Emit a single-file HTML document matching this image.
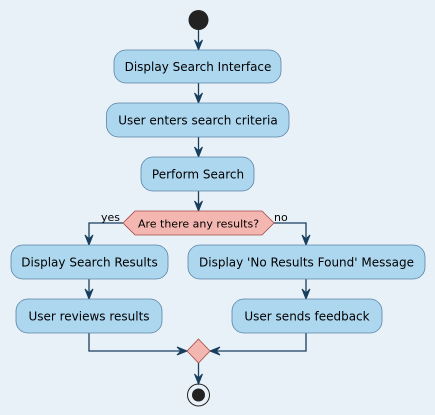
<!DOCTYPE html>
<html><head><meta charset="utf-8"><style>
html,body{margin:0;padding:0;background:#e9f1f8;}
svg{display:block;}
text{font-family:"DejaVu Sans","Liberation Sans",sans-serif;fill:#000;}
</style></head><body>
<svg width="435" height="415" viewBox="0 0 435 415" xmlns="http://www.w3.org/2000/svg">
<rect width="435" height="415" fill="#e9f1f8"/>
<defs>
<g id="ah"><polygon points="-4,-10 0,0 4,-10 0,-6" fill="#183f5e" stroke="#183f5e" stroke-width="1"/></g>
</defs>
<g stroke="#183f5e" stroke-width="1.3" fill="none">
<line x1="198.5" y1="30" x2="198.5" y2="50"/>
<line x1="198.5" y1="83" x2="198.5" y2="103"/>
<line x1="198.5" y1="137" x2="198.5" y2="157"/>
<line x1="198.5" y1="191" x2="198.5" y2="211"/>
<polyline points="123,223 89,223 89,245"/>
<polyline points="274,223 306,223 306,245"/>
<line x1="89" y1="279" x2="89" y2="299"/>
<line x1="306" y1="279" x2="306" y2="299"/>
<polyline points="89,333 89,351 187,351"/>
<polyline points="306,333 306,351 210,351"/>
<line x1="198.5" y1="363" x2="198.5" y2="384"/>
</g>
<use href="#ah" x="198.5" y="50"/>
<use href="#ah" x="198.5" y="103"/>
<use href="#ah" x="198.5" y="157"/>
<use href="#ah" x="198.5" y="211"/>
<use href="#ah" x="89" y="245"/>
<use href="#ah" x="306" y="245"/>
<use href="#ah" x="89" y="299"/>
<use href="#ah" x="306" y="299"/>
<use href="#ah" x="198.5" y="384"/>
<g transform="translate(187,351) rotate(-90)"><polygon points="-4,-10 0,0 4,-10 0,-6" fill="#183f5e" stroke="#183f5e"/></g>
<g transform="translate(210,351) rotate(90)"><polygon points="-4,-10 0,0 4,-10 0,-6" fill="#183f5e" stroke="#183f5e"/></g>

<circle cx="198.5" cy="20" r="10" fill="#222"/>

<g fill="#add6ef" stroke="#5b84a6" stroke-width="0.8">
<rect x="114" y="50" width="167" height="33" rx="12"/>
<rect x="106.5" y="103" width="182.5" height="34" rx="12"/>
<rect x="141" y="157" width="113" height="34" rx="12"/>
<rect x="11" y="245" width="157" height="34" rx="12"/>
<rect x="188" y="245" width="237" height="34" rx="12"/>
<rect x="16" y="299" width="146" height="34" rx="12"/>
<rect x="232" y="299" width="150" height="34" rx="12"/>
</g>
<polygon points="123,223 135,211 262,211 274,223 262,235 135,235" fill="#f4b6b0" stroke="#a34a44" stroke-width="0.8"/>
<polygon points="198.5,339 210,351 198.5,363 187,351" fill="#f4b6b0" stroke="#a34a44" stroke-width="0.8"/>
<circle cx="198.5" cy="395" r="11" fill="none" stroke="#222" stroke-width="1"/>
<circle cx="198.5" cy="395" r="6.5" fill="#222"/>

<g font-size="12" text-anchor="middle">
<text x="198" y="71">Display Search Interface</text>
<text x="198" y="124.5">User enters search criteria</text>
<text x="198" y="178.5">Perform Search</text>
<text x="89.5" y="266.5">Display Search Results</text>
<text x="306.5" y="266.5">Display 'No Results Found' Message</text>
<text x="89" y="320.5">User reviews results</text>
<text x="307" y="320.5">User sends feedback</text>
</g>
<text x="198.5" y="227.5" font-size="11" text-anchor="middle">Are there any results?</text>
<text x="101" y="221" font-size="11">yes</text>
<text x="274" y="221" font-size="11">no</text>
</svg>
</body></html>
